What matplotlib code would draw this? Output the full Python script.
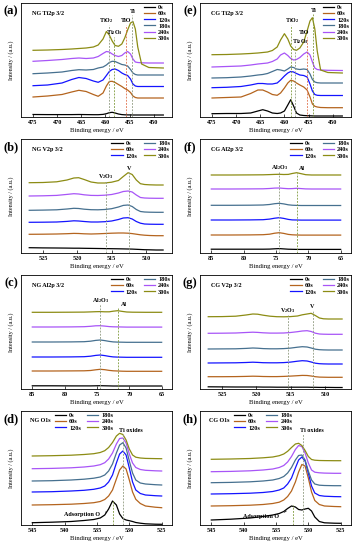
# xps_depth_profiles.py
# Ti2p, V2p, Al2p and O1s XPS depth profiles of NG / CG samples (stacked spectra)

import matplotlib.pyplot as plt

plt.rcParams['font.family'] = ['Liberation Serif', 'DejaVu Serif']
plt.rcParams['font.weight'] = 'bold'
plt.rcParams['mathtext.fontset'] = 'custom'
plt.rcParams['mathtext.rm'] = 'Liberation Serif:bold'
plt.rcParams['mathtext.default'] = 'rm'

# sputtering times and curve colours
times = ['0s', '60s', '120s', '180s', '240s', '300s']
colors = ['#000000', '#b4641e', '#1414ff', '#46708f', '#a855f7', '#8c8c14']

# ---------------- Ti2p 3/2 ----------------
ng_ti_x = [475, 472, 469, 467, 465.5, 464, 462.5, 461.5, 460.5, 459.8, 459.2, 458.6,
           458, 457.3, 456.6, 456, 455.4, 454.8, 454.3, 453.8, 453.3, 452.5, 451, 448]
ng_ti_y = [
    [2.5, 2.4, 2.4, 2.4, 2.5, 2.4, 2.3, 2.3, 2.6, 3.3, 4.3, 4.7, 4.0, 3.0, 2.4, 2.2, 2.1, 2.1, 2.0, 2.0, 2.0, 2.0, 2.0, 2.0],
    [20, 21, 22.5, 25, 26.7, 25.5, 22.5, 20.7, 24, 31, 35.5, 35.7, 34.5, 32.5, 30.5, 28.5, 27, 24.5, 21, 19.5, 19, 19, 19, 19],
    [31.3, 32, 34, 37.5, 39.5, 38.5, 36, 34.7, 37, 41.5, 45.5, 47.5, 48, 46.5, 44, 42.5, 41.5, 38, 33, 31, 30.5, 30.5, 30.5, 30.5],
    [43.3, 44, 45, 46.5, 47.3, 47, 47.5, 49, 50, 52, 54.5, 55.7, 55.5, 54, 52.5, 52, 51, 47.5, 44, 42.5, 42, 42, 42, 42],
    [55.7, 56.5, 57.5, 58.5, 59, 58.5, 59, 60.5, 63.5, 65.5, 65, 63, 61.5, 60.5, 61.5, 64, 65.5, 63, 58, 55, 54.5, 54.2, 54, 54],
    [66.7, 67, 67.5, 68, 68.5, 69, 70, 72, 78, 85.5, 82, 76, 71.5, 70.7, 73, 79, 87, 94, 95.5, 88, 70, 53, 49.5, 49],
]

cg_ti_x = [475, 472, 469, 467, 465.5, 464.5, 463.5, 462.5, 461.5, 460.8, 460, 459.3, 458.7,
           458.1, 457.5, 456.8, 456, 455.3, 454.7, 454.2, 453.7, 453.2, 452.5, 451, 448]
cg_ti_y = [
    [3.3, 3.5, 3.5, 4, 6, 7.3, 6, 4, 3.5, 4, 6, 12, 17.3, 11, 4, 2, 1.5, 1.3, 1.2, 1.1, 1, 1, 1, 1, 1],
    [19, 19.5, 20, 23.5, 27, 27, 25, 22.5, 21.7, 24, 29, 34, 36.7, 36, 34, 32, 30, 27, 20, 13, 10.7, 10, 9.5, 9.3, 9.3],
    [29.3, 29.7, 30.5, 32, 33.5, 33.5, 33, 33, 34, 37, 41, 44, 45.5, 45, 43.5, 42, 41.5, 40, 33, 26, 22.5, 21.7, 21.5, 21.5, 21.5],
    [39, 39.3, 40, 41, 42, 42.5, 43.5, 45.5, 47.5, 47, 46, 48, 50, 49.5, 48, 47.5, 48, 47.5, 43, 37.5, 35, 34.3, 34, 34, 34],
    [50, 50.5, 51, 52, 53, 53.5, 54, 55.5, 58, 62, 64, 61.5, 58.5, 57, 57.5, 59.5, 63, 65, 62, 55, 49, 47.5, 47, 46.7, 46.5],
    [62.3, 62.5, 63, 63.5, 64, 64.5, 65, 66.5, 70, 77, 83.3, 78, 71, 67.5, 66.7, 69, 75, 86, 96, 99.3, 88, 66, 47, 44.5, 44],
]

# ---------------- V2p 3/2 ----------------
v_x = [527, 525, 523, 521.5, 520.5, 519.8, 519, 518, 517, 516, 515, 514, 513.3,
       512.6, 512, 511.4, 510.8, 510.2, 509.5, 508.5, 507.5]
ng_v_y = [
    [5.3, 5.1, 5.0, 4.9, 4.8, 4.8, 4.7, 4.6, 4.5, 4.4, 4.3, 4.2, 4.1, 4.0, 3.9, 3.7, 3.5, 3.3, 3.2, 3.0, 3.0],
    [18.7, 18.8, 19.0, 19.3, 19.6, 19.5, 19.2, 19.0, 19.2, 19.5, 19.8, 20.0, 20.0, 19.8, 19.4, 18.8, 18.2, 17.8, 17.5, 17.3, 17.3],
    [30.7, 30.8, 31.0, 31.6, 32.2, 32.0, 31.5, 31.0, 31.0, 31.3, 32.0, 33.5, 35.0, 35.3, 34.0, 31.5, 29.8, 29.0, 28.8, 28.7, 28.7],
    [42.7, 42.9, 43.2, 44.0, 44.7, 44.5, 43.8, 43.3, 43.2, 43.5, 44.3, 46.0, 47.6, 48.0, 46.5, 43.5, 41.5, 41.0, 40.8, 40.7, 40.7],
    [57.0, 57.2, 57.6, 58.6, 59.3, 59.0, 58.2, 57.6, 57.5, 57.8, 58.5, 60.0, 61.5, 62.0, 61.0, 58.0, 55.5, 55.0, 54.8, 54.7, 54.7],
    [70.3, 70.5, 71.2, 73.0, 75.0, 75.3, 73.5, 71.0, 70.0, 70.0, 70.8, 72.5, 76.5, 80.3, 78.5, 73.0, 69.3, 68.5, 68.2, 68.0, 68.0],
]
cg_v_y = [
    [2.2, 2.1, 2.0, 2.0, 2.0, 2.0, 1.9, 1.9, 1.8, 1.8, 1.8, 1.8, 1.8, 1.8, 1.7, 1.7, 1.6, 1.6, 1.6, 1.5, 1.5],
    [12.3, 12.3, 12.4, 12.6, 12.8, 12.7, 12.5, 12.4, 12.4, 12.6, 12.9, 13.3, 13.6, 13.5, 13.0, 12.3, 11.9, 11.8, 11.7, 11.7, 11.7],
    [26.0, 26.1, 26.2, 26.5, 26.8, 26.6, 26.3, 26.2, 26.2, 26.4, 26.9, 27.8, 28.3, 28.0, 27.0, 25.8, 25.3, 25.1, 25.0, 25.0, 25.0],
    [40.0, 40.1, 40.2, 40.6, 41.0, 40.8, 40.4, 40.2, 40.2, 40.4, 40.9, 41.8, 42.3, 42.0, 41.0, 39.8, 39.3, 39.1, 39.0, 39.0, 39.0],
    [55.7, 55.8, 56.0, 56.5, 56.8, 56.6, 56.2, 55.9, 55.9, 56.0, 56.5, 57.3, 58.0, 58.3, 57.5, 55.8, 55.0, 54.8, 54.7, 54.7, 54.7],
    [72.3, 72.4, 72.8, 74.0, 75.0, 74.8, 73.8, 72.8, 72.3, 72.2, 72.4, 73.0, 74.2, 75.0, 75.7, 73.5, 71.0, 70.2, 70.0, 70.0, 70.0],
]

# ---------------- Al2p 3/2 ----------------
al_x = [85, 82, 79, 77, 76, 75.2, 74.5, 73.8, 73.1, 72.5, 71.8, 71.1, 70.4, 69.5, 67.5, 65]
ng_al_y = [
    [3.2, 3.2, 3.1, 3.1, 3.1, 3.2, 3.3, 3.2, 3.1, 3.0, 3.0, 3.0, 3.0, 3.0, 3.0, 3.0],
    [18.0, 18.0, 18.1, 18.2, 18.5, 19.2, 19.7, 19.3, 18.6, 18.2, 18.0, 17.8, 17.7, 17.7, 17.7, 17.7],
    [32.0, 32.0, 32.1, 32.3, 32.8, 33.6, 34.0, 33.4, 32.6, 32.1, 31.9, 31.8, 31.7, 31.7, 31.7, 31.7],
    [47.0, 47.0, 47.1, 47.3, 47.8, 48.6, 49.0, 48.4, 47.6, 47.1, 46.9, 46.8, 46.7, 46.7, 46.7, 46.7],
    [62.0, 62.0, 62.1, 62.3, 62.7, 63.2, 63.3, 62.9, 62.4, 62.2, 62.1, 62.0, 61.9, 61.9, 61.9, 61.9],
    [76.7, 76.7, 76.8, 76.9, 77.1, 77.3, 77.4, 77.2, 77.2, 77.8, 78.3, 77.6, 77.0, 76.8, 76.7, 76.7],
]
cg_al_y = [
    [3.8, 3.8, 3.8, 3.8, 3.9, 4.2, 4.4, 4.1, 3.8, 3.7, 3.6, 3.6, 3.6, 3.6, 3.6, 3.6],
    [18.0, 18.0, 18.1, 18.3, 18.8, 19.8, 20.3, 19.6, 18.6, 18.2, 18.0, 17.9, 17.9, 17.9, 17.9, 17.9],
    [33.0, 33.0, 33.1, 33.3, 33.9, 34.8, 35.3, 34.6, 33.6, 33.1, 33.0, 32.9, 32.9, 32.9, 32.9, 32.9],
    [47.7, 47.7, 47.8, 48.0, 48.5, 49.3, 49.7, 49.1, 48.2, 47.8, 47.6, 47.5, 47.5, 47.5, 47.5, 47.5],
    [64.0, 64.0, 64.1, 64.2, 64.5, 64.9, 65.0, 64.6, 64.3, 64.4, 64.7, 64.4, 64.1, 64.0, 64.0, 64.0],
    [78.0, 78.0, 78.1, 78.2, 78.4, 78.6, 78.7, 78.5, 78.6, 79.5, 80.3, 79.3, 78.3, 78.0, 78.0, 78.0],
]

# ---------------- O1s ----------------
o_x = [545, 542, 539, 537, 535.5, 534.5, 533.8, 533.2, 532.6, 532, 531.5, 531,
       530.5, 530, 529.5, 529, 528.3, 527.5, 526, 525]
ng_o_y = [
    [2.3, 2.8, 3.5, 4.5, 5.5, 7, 10, 16, 24, 20, 11, 6.5, 5, 4.3, 3.5, 2.5, 1.8, 1.2, 0.8, 0.7],
    [20, 20.3, 20.8, 21.5, 22.3, 23.5, 25.5, 29, 35, 46, 55, 59, 56, 45, 33, 25.7, 21.5, 19, 17.8, 17.3],
    [33, 33.3, 34, 34.7, 35.7, 37, 39, 43, 50, 62, 71, 74, 70, 57, 43, 35, 31.5, 30, 29.3, 29],
    [44, 44.3, 45, 45.8, 46.8, 48, 50, 54, 61, 72, 80, 82.3, 77, 64, 52, 45, 42, 41, 40.3, 40],
    [56.3, 56.6, 57.2, 58, 59, 60.3, 62.3, 66, 72, 81, 86.5, 87, 82, 71, 62, 57.5, 55.5, 54.7, 54.2, 54],
    [69, 69.3, 69.8, 70.5, 71.3, 72.5, 74.3, 77.5, 82.5, 89, 91.7, 90.5, 85, 76, 70, 67.8, 67, 66.6, 66.4, 66.3],
]
cg_o_y = [
    [5, 5.8, 7, 8.5, 10, 11.5, 13.5, 16.5, 19, 18, 15.5, 15, 16, 16.7, 14, 8, 3.5, 2.2, 1.8, 1.7],
    [19, 19.3, 19.8, 20.5, 21.5, 22.8, 25, 28.5, 34, 43, 53, 60.5, 59, 47, 33, 24.5, 20.5, 19, 18.5, 18.3],
    [31, 31.3, 31.8, 32.5, 33.5, 35, 37, 41, 47, 57, 65, 68, 64, 52, 39, 32, 29.5, 28.8, 28.4, 28.3],
    [42.3, 42.6, 43.2, 44, 45, 46.5, 48.5, 52, 57.5, 65, 69.5, 70, 65, 54, 45, 41, 39.8, 39.5, 39.3, 39.3],
    [53.3, 53.6, 54.2, 55, 56, 57.5, 59.5, 63, 68.5, 75.5, 79.5, 78.5, 72, 62, 55, 52.8, 52.2, 51.9, 51.7, 51.7],
    [65.7, 66, 66.5, 67.2, 68, 69.3, 71, 73.7, 77.5, 81, 81.7, 79.5, 74.5, 68.5, 65.5, 64.8, 64.5, 64.4, 64.3, 64.3],
]

# reference peak positions (eV) for the dashed guide lines
ng_ti_ref = [459.3, 458.2, 455.8, 454.5]
cg_ti_ref = [458.6, 457.8, 455.3, 454.1]
ng_v_ref = [515.8, 512.4]
cg_v_ref = [515.4, 511.8]
ng_al_ref = [74.5, 71.8]
cg_al_ref = [74.5, 71.7]
ng_o_ref = [532.5, 530.9]
cg_o_ref = [532.4, 530.8]

W, H = 358, 550
fig = plt.figure(figsize=(W / 100, H / 100), dpi=100)

FS = 4.4
green = '#7f9a3c'
grey = '#8f9a80'
red = '#e0704a'


def make_axes(left, top, tag):
    ax = fig.add_axes([left / W, 1 - (top + 114) / H, 151 / W, 114 / H])
    fig.text((left - 10) / W, 1 - (top + 8) / H, tag, fontsize=9,
             ha='center', va='center', fontweight='bold')
    return ax


def draw_panel(ax, x, ys, xlim, xticks, title, title_pos=(0.07, 0.91)):
    for y, c, t in zip(ys, colors, times):
        ax.plot(x, y, color=c, lw=0.9, label=t)
    ax.set_xlim(xlim)
    ax.set_ylim(0, 114)
    ax.set_xticks(xticks)
    ax.set_yticks([])
    ax.tick_params(axis='x', direction='in', length=2, width=0.5,
                   labelsize=4.4, pad=2)
    for s in ax.spines.values():
        s.set_linewidth(0.6)
    ax.set_xlabel('Binding energy / eV', fontsize=4.8, labelpad=2.5)
    ax.set_ylabel('Intensity / (a.u.)', fontsize=4.4, labelpad=5)
    ax.text(title_pos[0], title_pos[1], title, transform=ax.transAxes,
            fontsize=FS, ha='left', va='center')


def guides(ax, xs, tops, cols):
    ax.vlines(xs, 0, tops, colors=cols, linestyles=(0, (2.2, 1.6)), lw=0.6)


def add_legend(ax, ncol, loc, anchor):
    ax.legend(loc=loc, bbox_to_anchor=anchor, ncol=ncol, frameon=False,
              fontsize=4.5, handlelength=1.8, handletextpad=0.5,
              labelspacing=0.12, columnspacing=1.0, borderaxespad=0.1,
              borderpad=0.2)


ti_lim, ti_ticks = (477.5, 446.2), [475, 470, 465, 460, 455, 450]
v_lim, v_ticks = (528.2, 506.2), [525, 520, 515, 510]
al_lim, al_ticks = (86.75, 63.4), [85, 80, 75, 70, 65]
o_lim, o_ticks = (546.75, 523.4), [545, 540, 535, 530, 525]

# (a) NG Ti2p
ax = make_axes(21, 3, '(a)')
draw_panel(ax, ng_ti_x, ng_ti_y, ti_lim, ti_ticks, 'NG Ti2p 3/2')
guides(ax, ng_ti_ref, [92, 80, 92, 102], [grey, green, red, grey])
ax.text(459.8, 96.7, r'TiO$_2$', fontsize=FS, ha='center', va='center')
ax.text(458.1, 84, r'Ti$_2$O$_3$', fontsize=FS, ha='center', va='center')
ax.text(455.8, 97, 'TiO', fontsize=FS, ha='center', va='center')
ax.text(454.3, 105.7, 'Ti', fontsize=FS, ha='center', va='center')
add_legend(ax, 1, 'upper right', (1.0, 1.0))

# (e) CG Ti2p
ax = make_axes(200, 3, '(e)')
draw_panel(ax, cg_ti_x, cg_ti_y, ti_lim, ti_ticks, 'CG Ti2p 3/2')
guides(ax, cg_ti_ref, [92, 71, 80, 103], [green, grey, red, green])
ax.text(458.4, 96, r'TiO$_2$', fontsize=FS, ha='center', va='center')
ax.text(456.6, 75, r'Ti$_2$O$_3$', fontsize=FS, ha='center', va='center')
ax.text(456.0, 84, 'TiO', fontsize=FS, ha='center', va='center')
ax.text(454.0, 106.7, 'Ti', fontsize=FS, ha='center', va='center')
add_legend(ax, 1, 'upper right', (1.0, 1.0))

# (b) NG V2p
ax = make_axes(21, 139, '(b)')
draw_panel(ax, v_x, ng_v_y, v_lim, v_ticks, 'NG V2p 3/2')
guides(ax, ng_v_ref, [72, 81], [grey, grey])
ax.text(515.8, 76, r'V$_2$O$_3$', fontsize=FS, ha='center', va='center')
ax.text(512.4, 85, 'V', fontsize=FS, ha='center', va='center')
add_legend(ax, 2, 'upper right', (1.0, 1.0))

# (f) CG Al2p
ax = make_axes(200, 139, '(f)')
draw_panel(ax, al_x, cg_al_y, al_lim, al_ticks, 'CG Al2p 3/2')
guides(ax, cg_al_ref, [82, 80], [grey, green])
ax.text(74.5, 85.7, r'Al$_2$O$_3$', fontsize=FS, ha='center', va='center')
ax.text(71.0, 84, 'Al', fontsize=FS, ha='center', va='center')
add_legend(ax, 2, 'upper right', (1.0, 1.0))

# (c) NG Al2p
ax = make_axes(21, 275, '(c)')
draw_panel(ax, al_x, ng_al_y, al_lim, al_ticks, 'NG Al2p 3/2')
guides(ax, ng_al_ref, [85, 81], [grey, green])
ax.text(74.5, 88.7, r'Al$_2$O$_3$', fontsize=FS, ha='center', va='center')
ax.text(70.9, 84.7, 'Al', fontsize=FS, ha='center', va='center')
add_legend(ax, 2, 'upper right', (1.0, 1.0))

# (g) CG V2p
ax = make_axes(200, 275, '(g)')
draw_panel(ax, v_x, cg_v_y, v_lim, v_ticks, 'CG V2p 3/2')
guides(ax, cg_v_ref, [74, 79], [grey, grey])
ax.text(515.4, 78, r'V$_2$O$_3$', fontsize=FS, ha='center', va='center')
ax.text(511.9, 83, 'V', fontsize=FS, ha='center', va='center')
add_legend(ax, 2, 'upper right', (1.0, 1.0))

# (d) NG O1s
ax = make_axes(21, 411, '(d)')
draw_panel(ax, o_x, ng_o_y, o_lim, o_ticks, 'NG O1s', (0.06, 0.92))
guides(ax, ng_o_ref, [24, 91], [green, grey])
ax.text(529.8, 95, 'Ti oxides', fontsize=FS, ha='center', va='center')
ax.annotate('Adsorption O', xy=(533.2, 14.5), xytext=(537.3, 10.7),
            fontsize=FS, ha='center', va='center',
            arrowprops=dict(arrowstyle='-', lw=0.5, color='black',
                            connectionstyle='arc3,rad=0.2'))
add_legend(ax, 2, 'upper left', (0.21, 1.0))

# (h) CG O1s
ax = make_axes(200, 411, '(h)')
draw_panel(ax, o_x, cg_o_y, o_lim, o_ticks, 'CG O1s', (0.06, 0.92))
guides(ax, cg_o_ref, [20, 91], [green, grey])
ax.text(529.4, 95, 'Ti oxides', fontsize=FS, ha='center', va='center')
ax.annotate('Adsorption O', xy=(533.4, 14), xytext=(537.3, 8.3),
            fontsize=FS, ha='center', va='center',
            arrowprops=dict(arrowstyle='-', lw=0.5, color='black',
                            connectionstyle='arc3,rad=0.2'))
add_legend(ax, 2, 'upper left', (0.21, 1.0))

fig.savefig('out.png', dpi=100)
